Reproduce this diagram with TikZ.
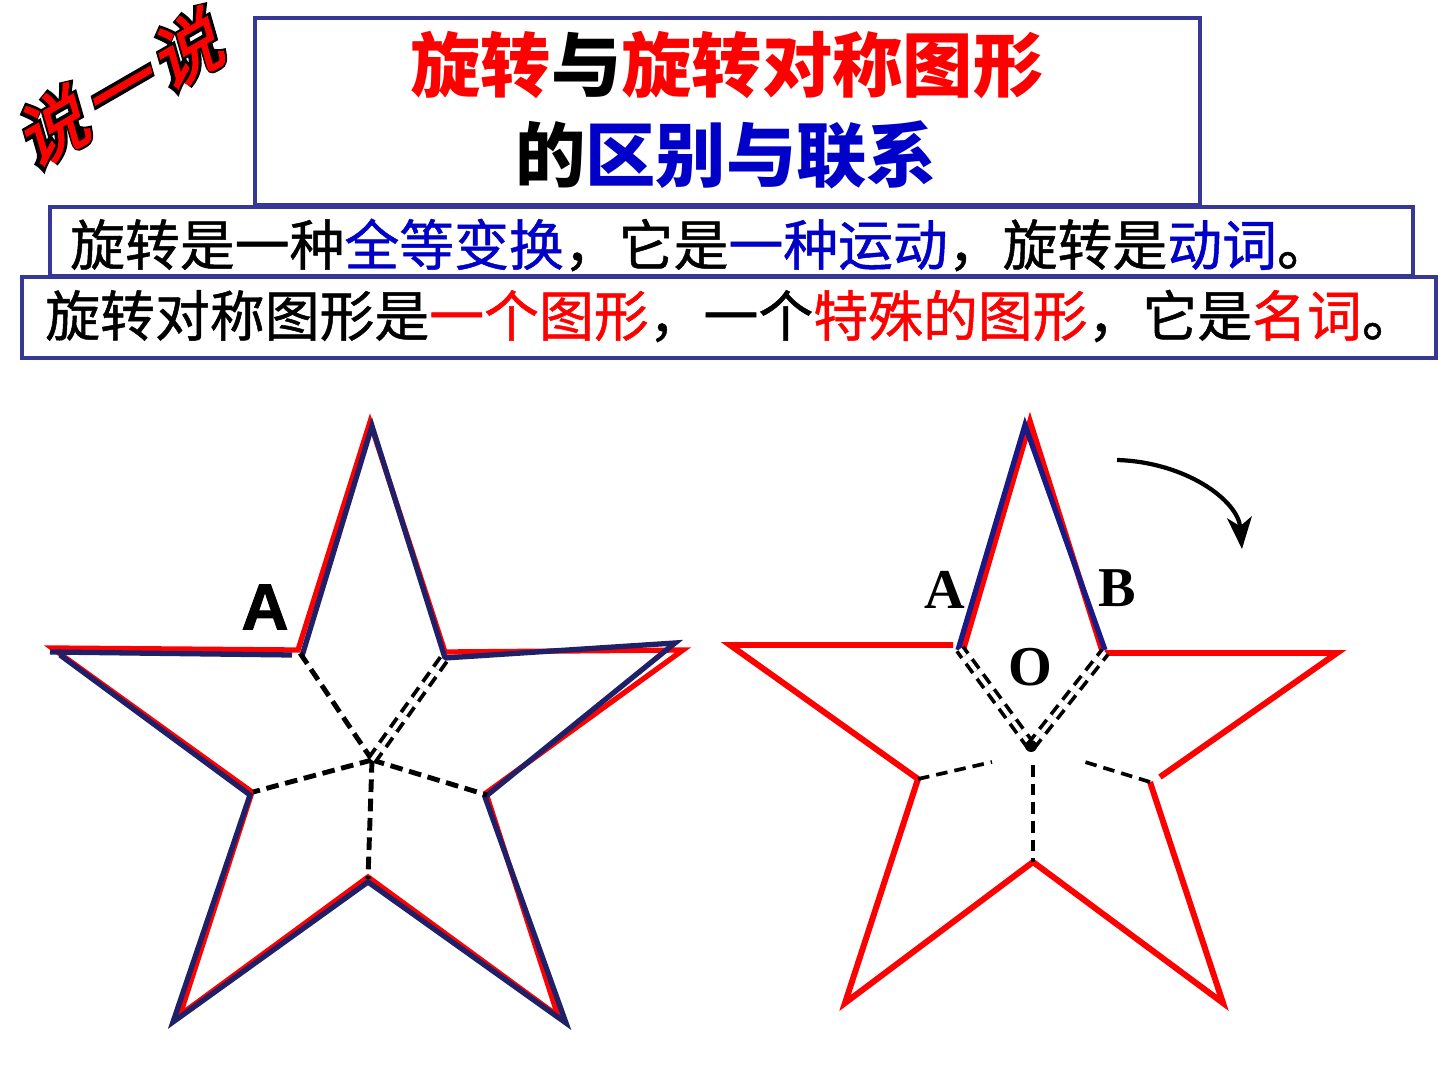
\documentclass[tikz,border=0pt]{standalone}
\usepackage{fontspec}
\usetikzlibrary{arrows.meta}
\newfontfamily\cjk{Noto Sans CJK SC}
\newfontfamily\cjkbody[FakeBold=0.9]{Noto Sans CJK SC}
\newfontfamily\shuoedge[FakeBold=5,FakeSlant=0.25]{Noto Sans CJK SC}
\newfontfamily\shuofill[FakeBold=2,FakeSlant=0.25]{Noto Sans CJK SC}
\newfontfamily\latinserif{Liberation Serif}
\newfontfamily\latinsans[FakeBold=1.5]{Liberation Sans}
\definecolor{framecol}{RGB}{55,55,150}
\definecolor{navyline}{RGB}{32,32,105}
\definecolor{textblue}{RGB}{0,0,200}
\definecolor{strokered}{RGB}{255,0,0}
\newcommand{\blu}[1]{\textcolor{textblue}{#1}}
\newcommand{\rd}[1]{\textcolor{strokered}{#1}}
\newcommand{\shuotext}{说\hspace{0.1em}一\hspace{0.1em}说}
\begin{document}
\begin{tikzpicture}[
        x=0.01cm, y=-0.01cm,
        frame/.style={draw=framecol, line width=1.1pt},
        whitebox/.style={frame, fill=white},
        heading/.style={inner sep=0pt, font=\cjk\bfseries\fontsize{20}{24}\selectfont},
        bodytext/.style={inner sep=0pt, font=\cjkbody\fontsize{15.6}{18}\selectfont},
        redstar/.style={draw=strokered, line width=1.5pt, line join=miter},
        bluestar/.style={draw=navyline, line width=1.5pt, line join=miter},
        cut/.style={draw=black, line width=1.4pt, dash pattern=on 3.6pt off 1.9pt},
        thincut/.style={draw=black, line width=1.05pt, dash pattern=on 3.3pt off 2pt},
        cutpair/.style={thincut, double=white, double distance=1.1pt},
        ptlabel/.style={inner sep=0pt, font=\latinserif\bfseries\fontsize{16}{18}\selectfont}
    ]
    \useasboundingbox[fill=white] (0,0) rectangle (1440,1080);
    % header
    \node[inner sep=0pt, rotate=30] (shuoback) at (117,90)
        {\shuoedge\bfseries\fontsize{20}{24}\selectfont \shuotext};
    \node[inner sep=0pt, rotate=30, text=strokered] (shuo) at (117,90)
        {\shuofill\fontsize{20}{24}\selectfont \shuotext};
    \draw[whitebox] (255,18) rectangle (1200,205);
    \node[heading] (title1) at (727,65) {\rd{旋转}与\rd{旋转对称图形}};
    \node[heading] (title2) at (726,155) {的\blu{区别与联系}};
    \draw[whitebox] (50,207) rectangle (1413,276);
    \node[bodytext] (verb) at (701,245)
        {旋转是一种\blu{全等变换}，它是\blu{一种运动}，旋转是\blu{动词}。};
    \draw[whitebox] (22,277) rectangle (1436,358);
    \node[bodytext] (noun) at (731,316)
        {旋转对称图形是\rd{一个图形}，一个\rd{特殊的图形}，它是\rd{名词}。};

    % left star: two copies
    \coordinate (lc) at (372,760);
    \coordinate (lul) at (300,653);
    \coordinate (lur) at (446,656);
    \coordinate (ll) at (253,792);
    \coordinate (lr) at (487,795);
    \coordinate (lb) at (368,879);
    \draw[redstar] (298,650) -- (52,648) -- (252,792) -- (180,1015) -- (368,877)
        -- (558,1016) -- (486,793) -- (683,650) -- (445,652) -- (370,422) -- cycle;
    \draw[bluestar] (292,655) -- (50,652);
    \draw[bluestar] (60,655) -- (250,795) -- (173,1022) -- (368,882) -- (566,1023)
        -- (485,797) -- (675,643) -- (445,658) -- (372,426) -- (302,656);
    \draw[cut] (lc) -- (lul);
    \draw[cut] (lc) -- (ll);
    \draw[cut] (lc) -- (lr);
    \draw[cut] (lc) -- (lb);
    \draw[cutpair, line width=1.1pt] (lc) -- (lur);
    \node[inner sep=0pt, font=\latinsans\bfseries\fontsize{18.5}{20}\selectfont] (ltag) at (265,607) {A};

    % right star
    \coordinate (rc) at (1031,746);
    \coordinate (ra) at (960,649);
    \coordinate (rb) at (1105,652);
    \coordinate (rl) at (918,779);
    \coordinate (rr) at (1150,782);
    \coordinate (rbot) at (1033,862);
    \coordinate (rlend) at (992,762);
    \coordinate (rrend) at (1085,762);
    \coordinate (rbend) at (1033,765);
    \draw[redstar, line width=1.7pt] (953,645) -- (730,645) -- (rl) -- (845,1003) -- (rbot)
        -- (1223,1003) -- (rr);
    \draw[redstar, line width=1.7pt] (1160,777) -- (1337,653) -- (1105,653);
    \draw[redstar, line width=1.7pt] (963,650) -- (1030,422) -- (1102,650);
    \draw[bluestar, draw=navyline!80!blue] (958,650) -- (1025,425) -- (1105,650);
    \draw[cutpair] (rc) -- (ra);
    \draw[cutpair] (rc) -- (rb);
    \draw[thincut] (rl) -- (rlend);
    \draw[thincut] (rr) -- (rrend);
    \draw[thincut] (rbend) -- (rbot);
    \fill (rc) circle (6);
    \node[ptlabel] (atag) at (945,590) {A};
    \node[ptlabel] (btag) at (1117,588) {B};
    \node[ptlabel] (otag) at (1030,667) {O};
    \coordinate (turnstart) at (1117,460);
    \coordinate (turnend) at (1242,549);
    \draw[line width=1.2pt, -{Stealth[length=9pt, width=7pt, inset=2.5pt]}]
        (turnstart) .. controls (1185,462) and (1238,500) .. (turnend);
\end{tikzpicture}
\end{document}
